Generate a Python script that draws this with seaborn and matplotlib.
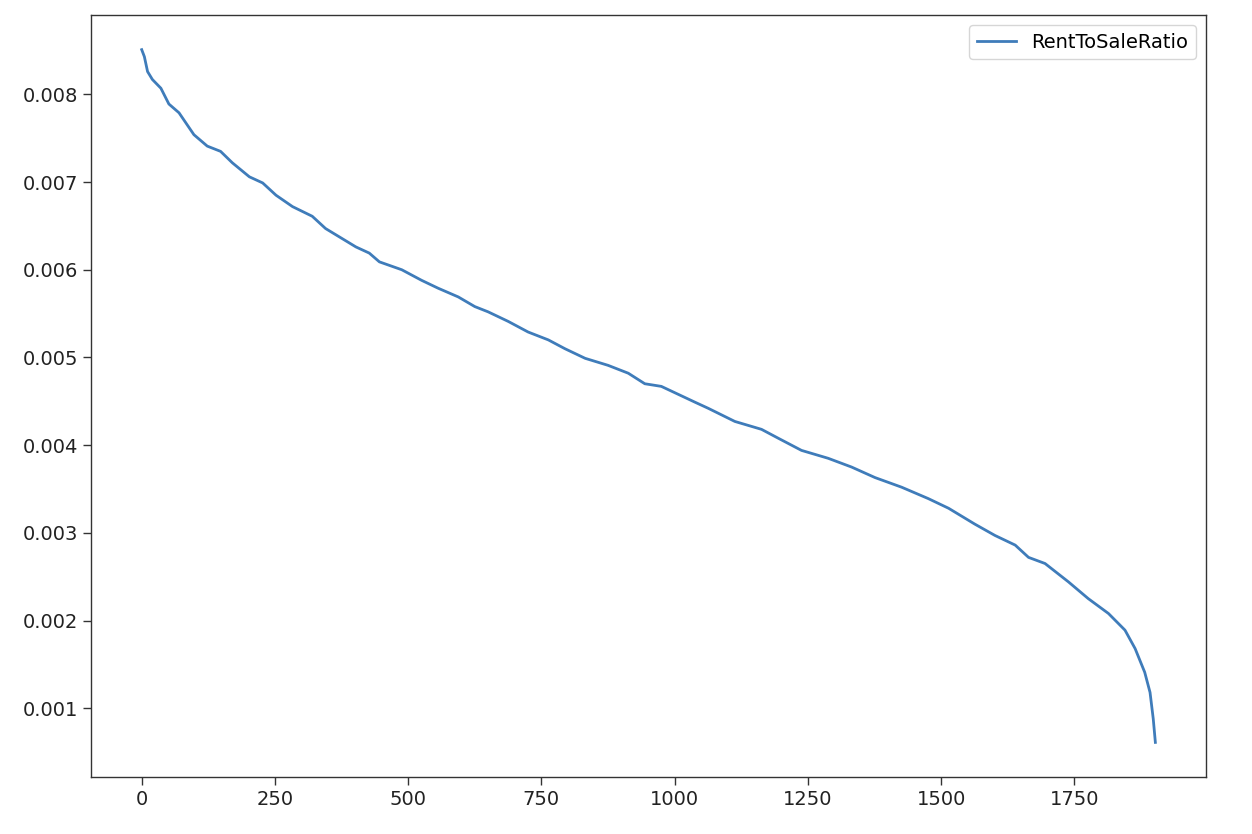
import matplotlib
matplotlib.use("Agg")
import matplotlib.pyplot as plt
import seaborn as sns
import pandas as pd

# values (row index -> ratio, sorted descending)
row_idx = [0, 5, 11, 20, 36, 51, 70, 89, 98, 123, 148, 170, 202, 227, 252,
           283, 320, 345, 402, 427, 446, 488, 525, 556, 594, 625, 650, 688,
           725, 763, 794, 832, 875, 913, 944, 975, 1038, 1063, 1113, 1163,
           1194, 1238, 1288, 1332, 1376, 1426, 1476, 1514, 1563, 1601, 1639,
           1664, 1695, 1739, 1776, 1814, 1845, 1864, 1882, 1892, 1898, 1902]
rent_to_sale = [0.00851, 0.00843, 0.00826, 0.00817, 0.00807, 0.00789, 0.00779,
                0.00762, 0.00754, 0.00741, 0.00735, 0.00722, 0.00706, 0.00699,
                0.00685, 0.00672, 0.00661, 0.00647, 0.00626, 0.00619, 0.00609,
                0.00600, 0.00588, 0.00579, 0.00569, 0.00558, 0.00552, 0.00541,
                0.00529, 0.00520, 0.00510, 0.00499, 0.00491, 0.00482, 0.00470,
                0.00467, 0.00449, 0.00442, 0.00427, 0.00418, 0.00408, 0.00394,
                0.00385, 0.00375, 0.00363, 0.00352, 0.00339, 0.00328, 0.00310,
                0.00297, 0.00286, 0.00272, 0.00265, 0.00244, 0.00225, 0.00208,
                0.00189, 0.00168, 0.00141, 0.00118, 0.00088, 0.00061]

x_ticks = [0, 250, 500, 750, 1000, 1250, 1500, 1750]
y_ticks = [0.001, 0.002, 0.003, 0.004, 0.005, 0.006, 0.007, 0.008]

df = pd.DataFrame({"idx": row_idx, "RentToSaleRatio": rent_to_sale})

plt.rcParams["font.family"] = ["DejaVu Sans"]
plt.rcParams["font.size"] = 14

fig, ax = plt.subplots(figsize=(12.52, 8.34), dpi=100)
fig.subplots_adjust(left=0.0727, right=0.9633, bottom=0.0683, top=0.982)

sns.lineplot(data=df, x="idx", y="RentToSaleRatio", ax=ax,
             color="#3f7cba", linewidth=2.0, label="RentToSaleRatio")

ax.set_xticks(x_ticks)
ax.set_yticks(y_ticks)
ax.set_yticklabels([f"{v:.3f}" for v in y_ticks])
ax.set_xlabel("")
ax.set_ylabel("")
ax.tick_params(length=6, width=1, color="#333333", labelcolor="#222222",
               labelsize=14)
for sp in ax.spines.values():
    sp.set_color("#333333")
    sp.set_linewidth(1.0)
ax.legend(loc="upper right", fontsize=14)

plt.savefig("out.png", dpi=100)
plt.close()
